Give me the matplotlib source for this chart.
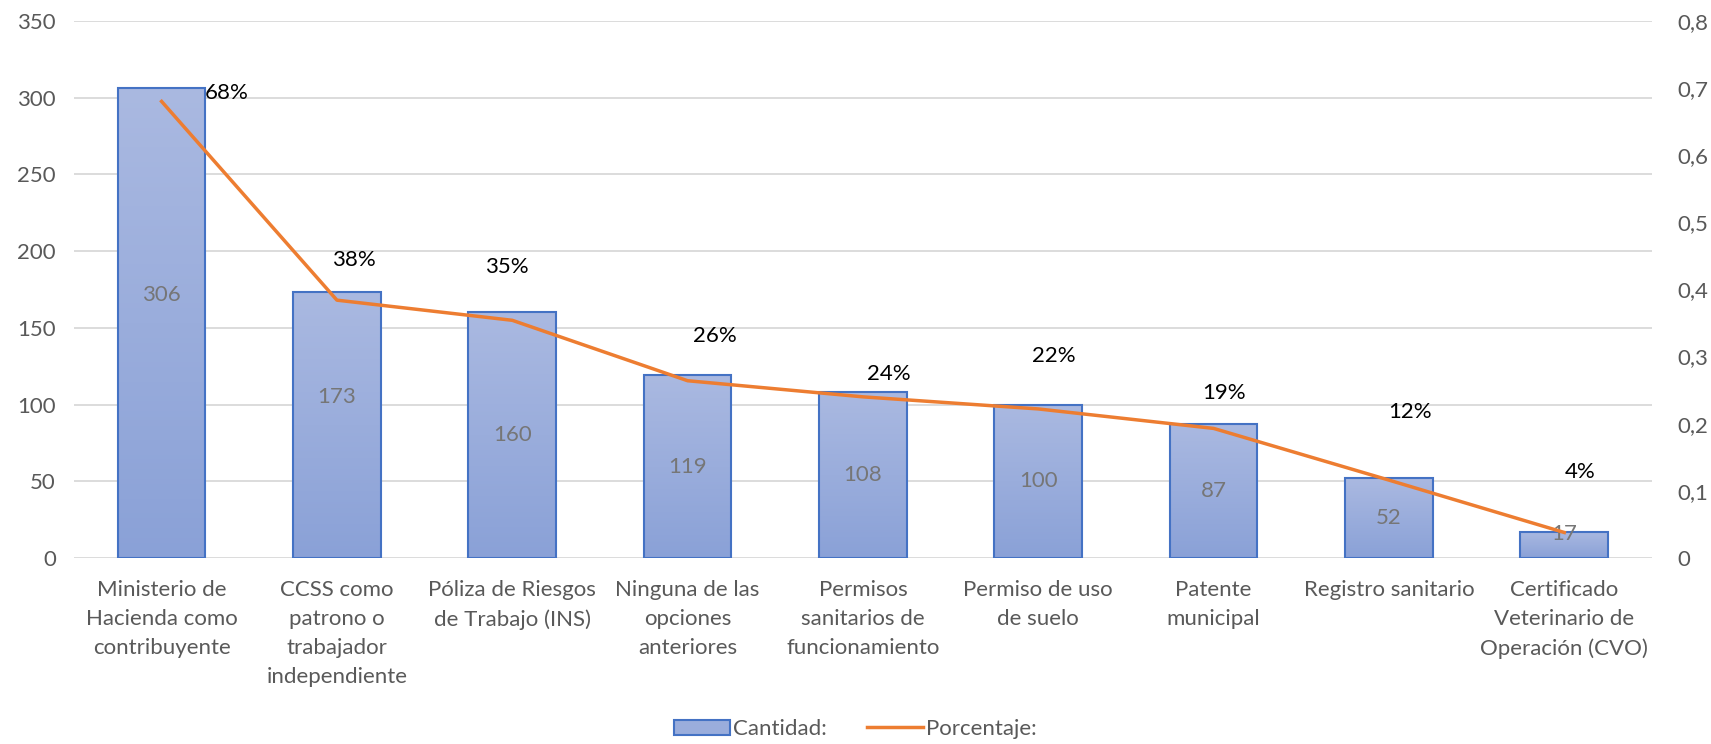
import numpy as np
import matplotlib
matplotlib.use('Agg')
import matplotlib.pyplot as plt
from matplotlib.patches import Patch
from matplotlib.lines import Line2D
from matplotlib.ticker import FuncFormatter, MultipleLocator
from matplotlib.colors import LinearSegmentedColormap

plt.rcParams['font.family'] = ['Lato', 'DejaVu Sans']

# datos
categorias = ['Ministerio de\nHacienda como\ncontribuyente',
              'CCSS como\npatrono o\ntrabajador\nindependiente',
              'Póliza de Riesgos\nde Trabajo (INS)',
              'Ninguna de las\nopciones\nanteriores',
              'Permisos\nsanitarios de\nfuncionamiento',
              'Permiso de uso\nde suelo',
              'Patente\nmunicipal',
              'Registro sanitario',
              'Certificado\nVeterinario de\nOperación (CVO)']
cantidad = [306, 173, 160, 119, 108, 100, 87, 52, 17]
porcentaje = [0.68, 0.384, 0.354, 0.264, 0.24, 0.222, 0.193, 0.116, 0.038]

# desplazamientos de etiquetas (pixeles)
off_pct = [(65, 8), (17, 40), (-5, 53), (27, 45), (26, 23), (16, 53), (10, 35), (21, 68), (16, 60)]
off_cant = [28, 28, 0, 0, 0, 0, 0, 0, 11]

gris = '#595959'
borde = '#4472c4'
naranja = '#ed7d31'
fs = 16

fig = plt.figure(figsize=(17.11, 7.44), dpi=100)
ax = fig.add_axes([0.0432, 0.25, 0.9223, 0.722])
ax2 = ax.twinx()

x = np.arange(len(cantidad))
bars = ax.bar(x, cantidad, width=0.5, color='none', edgecolor=borde, linewidth=1.5, zorder=3)

# degradado en cada barra
cmap = LinearSegmentedColormap.from_list('azul', ['#8aa1d7', '#aab9e1'])
grad = np.linspace(0, 1, 256).reshape(-1, 1)
for b in bars:
    x0, y0 = b.get_x(), b.get_y()
    w, h = b.get_width(), b.get_height()
    im = ax.imshow(grad, cmap=cmap, aspect='auto', origin='lower',
                   extent=[x0, x0 + w, y0, y0 + h], zorder=2)
    im.set_clip_path(b)

for i, v in enumerate(cantidad):
    ax.annotate(str(v), (x[i], v / 2), xytext=(0, off_cant[i]), textcoords='offset pixels',
                ha='center', va='center', fontsize=fs, color='#767676', zorder=5)

ax.set_xlim(-0.5, len(cantidad) - 0.5)
ax.set_ylim(0, 350)
ax.yaxis.set_major_locator(MultipleLocator(50))
ax.set_xticks(x)
ax.set_xticklabels(categorias, fontsize=fs, color=gris, linespacing=1.55)
ax.tick_params(axis='both', length=0, colors=gris, labelsize=fs)
ax.tick_params(axis='x', pad=16)
ax.tick_params(axis='y', pad=13)
ax.grid(axis='y', color='#d9d9d9', linewidth=1.3, zorder=0)
ax.set_axisbelow(True)

ax2.plot(x, porcentaje, color=naranja, linewidth=2.5, zorder=4)
for i, p in enumerate(porcentaje):
    ax2.annotate(f'{p * 100:.0f}%', (x[i], p), xytext=off_pct[i], textcoords='offset pixels',
                 ha='center', va='center', fontsize=fs, color='black')
ax2.set_ylim(0, 0.8)
ax2.yaxis.set_major_locator(MultipleLocator(0.1))
ax2.yaxis.set_major_formatter(FuncFormatter(lambda v, p: ('%g' % round(v, 1)).replace('.', ',')))
ax2.tick_params(axis='y', length=0, colors=gris, labelsize=fs, pad=18)

for a in (ax, ax2):
    for s in a.spines.values():
        s.set_visible(False)

handles = [Patch(facecolor='#9aaddc', edgecolor=borde, linewidth=1.5),
           Line2D([0], [0], color=naranja, linewidth=2.5)]
fig.legend(handles, ['Cantidad:', 'Porcentaje:'], loc='center', bbox_to_anchor=(0.5, 0.02),
           ncol=2, frameon=False, fontsize=fs, labelcolor=gris, handlelength=2.5,
           handletextpad=0.15, columnspacing=1.8)

fig.savefig('out.png', dpi=100)
